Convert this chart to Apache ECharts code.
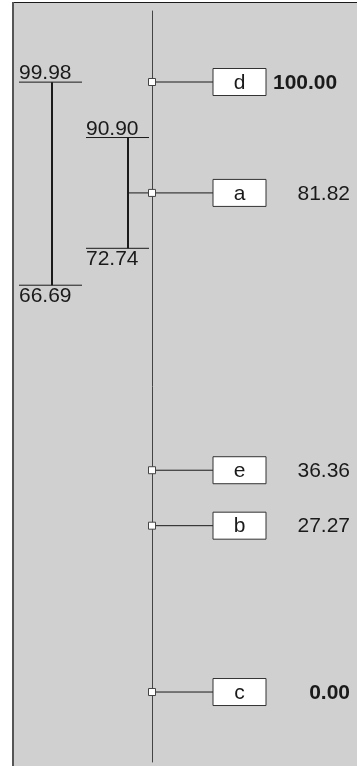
<!DOCTYPE html>
<html>
<head>
<meta charset="utf-8">
<script src="https://cdn.jsdelivr.net/npm/echarts@6/dist/echarts.min.js"></script>
<style>
  html, body { margin: 0; padding: 0; background: #fff; }
  #chart { width: 357px; height: 766px; }
</style>
</head>
<body>
<div id="chart"></div>
<script>
// points along the axis
const names = ['d', 'a', 'e', 'b', 'c'];
const values = [100.00, 81.82, 36.36, 27.27, 0.00];

// range brackets on the left (low, high, optional link to the axis)
const rangeLow = [66.69, 72.74];
const rangeHigh = [99.98, 90.90];
const rangeLink = [null, 81.82];

const FONT = '21px "Liberation Sans", Arial, sans-serif';
const BOLD = 'bold 21px "Liberation Sans", Arial, sans-serif';
const INK = '#1a1a1a';

const vMax = Math.max(...values);
const vMin = Math.min(...values);

const chart = echarts.init(document.getElementById('chart'));

/** points: marker on the axis, connector, labelled box, value */
const renderPoint = (params, api) => {
    const v = api.value(1);
    const i = api.value(2);
    const p = api.coord([0, v]);
    const bold = v === vMax || v === vMin;
    const txt = v.toFixed(2);
    let tx = p[0] + 198, align = 'right';
    if (v === vMax) { tx = p[0] + 121; align = 'left'; }
    return {
        type: 'group',
        children: [
            { type: 'line', shape: { x1: p[0], y1: p[1], x2: p[0] + 61, y2: p[1] },
              style: { stroke: INK, lineWidth: 1 } },
            { type: 'rect', shape: { x: p[0] + 61, y: p[1] - 13.5, width: 53, height: 27 },
              style: { fill: '#fff', stroke: '#333', lineWidth: 1 } },
            { type: 'text', style: { text: names[i], x: p[0] + 87.5, y: p[1] + 1, font: FONT,
              fill: INK, align: 'center', verticalAlign: 'middle' } },
            { type: 'rect', shape: { x: p[0] - 3.5, y: p[1] - 3.5, width: 7, height: 7 },
              style: { fill: '#fff', stroke: '#444', lineWidth: 1 } },
            { type: 'text', style: { text: txt, x: tx, y: p[1] + 1, font: bold ? BOLD : FONT,
              fill: INK, align: align, verticalAlign: 'middle' } },
        ]
    };
};

/** brackets: vertical range with end ticks and labels */
const renderRange = (params, api) => {
    const i = api.value(3);
    const lo = api.coord([0, api.value(0)]);
    const hi = api.coord([0, api.value(1)]);
    const link = rangeLink[i];
    const t0 = lo[0] - 66 - 67 * (rangeLow.length - 1 - i);
    const t1 = t0 + 63;
    const vx = t0 + (link != null ? 42 : 33);
    const children = [
        { type: 'line', shape: { x1: vx, y1: hi[1], x2: vx, y2: lo[1] },
          style: { stroke: INK, lineWidth: 2 } },
        { type: 'line', shape: { x1: t0, y1: hi[1], x2: t1, y2: hi[1] },
          style: { stroke: INK, lineWidth: 1 } },
        { type: 'line', shape: { x1: t0, y1: lo[1], x2: t1, y2: lo[1] },
          style: { stroke: INK, lineWidth: 1 } },
        { type: 'text', style: { text: api.value(1).toFixed(2), x: t0, y: hi[1] + 2, font: FONT,
          fill: INK, align: 'left', verticalAlign: 'bottom' } },
        { type: 'text', style: { text: api.value(0).toFixed(2), x: t0, y: lo[1], font: FONT,
          fill: INK, align: 'left', verticalAlign: 'top' } },
    ];
    if (link != null) {
        const m = api.coord([0, link]);
        children.push({ type: 'line', shape: { x1: vx, y1: m[1], x2: m[0], y2: m[1] },
            style: { stroke: INK, lineWidth: 1 } });
    }
    return { type: 'group', children };
};

const options = {
    animation: false,
    backgroundColor: '#fff',
    graphic: [
        { type: 'rect', z: -10, shape: { x: 13, y: 2, width: 344, height: 764 },
          style: { fill: '#d0d0d0' } },
        { type: 'line', z: -9, shape: { x1: 12, y1: 2.5, x2: 357, y2: 2.5 },
          style: { stroke: '#1a1a1a', lineWidth: 1 } },
        { type: 'line', z: -9, shape: { x1: 13, y1: 2, x2: 13, y2: 766 },
          style: { stroke: '#555', lineWidth: 2 } },
    ],
    grid: { left: 152, right: 0, top: 11, bottom: 4 },
    xAxis: { type: 'value', min: 0, max: 205, show: false },
    yAxis: {
        type: 'value',
        min: -11.47,
        max: 111.64,
        axisLine: { show: true, lineStyle: { color: '#444', width: 1 } },
        axisTick: { show: false },
        axisLabel: { show: false },
        splitLine: { show: false },
    },
    series: [
        {
            type: 'custom',
            renderItem: renderRange,
            data: rangeLow.map((lo, i) => [lo, rangeHigh[i], rangeLink[i], i]),
            z: 2,
        },
        {
            type: 'custom',
            renderItem: renderPoint,
            data: values.map((v, i) => [0, v, i]),
            z: 3,
        },
    ],
};

chart.setOption(options);
</script>
</body>
</html>
